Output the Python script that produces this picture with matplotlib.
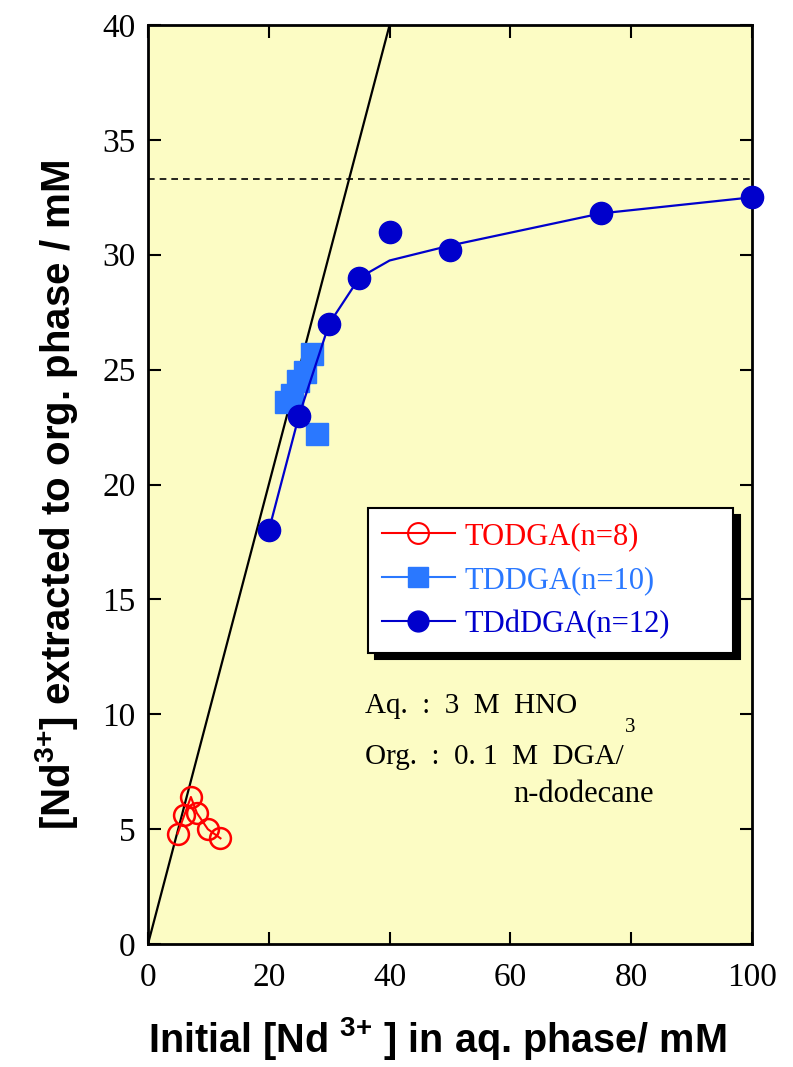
import numpy as np
import matplotlib
matplotlib.use("Agg")
import matplotlib.pyplot as plt

plt.rcParams["mathtext.fontset"] = "custom"
plt.rcParams["mathtext.rm"] = "Liberation Sans"
plt.rcParams["mathtext.bf"] = "Liberation Sans:bold"

# data
todga_x = [4.9, 6.0, 7.1, 8.1, 9.9, 12.0]
todga_y = [4.8, 5.6, 6.4, 5.7, 5.0, 4.6]

tddga_x = [22.9, 23.9, 24.9, 26.0, 27.1, 27.9]
tddga_y = [23.6, 23.9, 24.5, 24.9, 25.7, 22.2]

tddd_x = [20, 25, 30, 35, 40, 50, 75, 100]
tddd_y = [18.0, 23.0, 27.0, 29.0, 31.0, 30.2, 31.8, 32.5]

# fitted curve drawn through the TDdDGA data
fit_x = [20, 25, 30, 35, 40, 50, 75, 100]
fit_y = [18.0, 23.0, 27.0, 29.0, 29.75, 30.4, 31.8, 32.5]

# 100 % extraction line and loading limit (0.1 M / 3)
full_x = [0, 40]
full_y = [0, 40]
limit_y = 33.3

x_ticks = [0, 20, 40, 60, 80, 100]
y_ticks = [0, 5, 10, 15, 20, 25, 30, 35, 40]
labels = ["TODGA(n=8)", "TDDGA(n=10)", "TDdDGA(n=12)"]

RED = "#ff0000"
LBLUE = "#2a78ff"
DBLUE = "#0000cc"
BG = "#fcfcc4"
serif = ["Liberation Serif", "DejaVu Serif"]
sans = ["Liberation Sans", "DejaVu Sans"]

fig = plt.figure(figsize=(7.93, 10.67), dpi=100)
ax = fig.add_axes([148 / 793, 1 - 944 / 1067, 604 / 793, 919 / 1067])
ax.set_facecolor(BG)

ax.plot(full_x, full_y, color="black", lw=1.6, zorder=2)
ax.axhline(limit_y, color="black", lw=1.2, ls=(0, (4, 3)), zorder=2)

ax.plot(todga_x, todga_y, color=RED, lw=1.5, marker="o", ms=15,
        mfc="none", mec=RED, mew=1.8, zorder=3)
ax.plot(tddga_x, tddga_y, ls="none", marker="s", ms=16,
        mfc=LBLUE, mec=LBLUE, zorder=3)
ax.plot(fit_x, fit_y, color=DBLUE, lw=1.6, zorder=3)
ax.plot(tddd_x, tddd_y, ls="none", marker="o", ms=16, mfc=DBLUE, mec=DBLUE,
        zorder=4, clip_on=False)

# legend proxies (line + marker)
h1, = ax.plot([], [], color=RED, lw=1.5, marker="o", ms=15, mfc="none", mec=RED, mew=1.5)
h2, = ax.plot([], [], color=LBLUE, lw=1.5, marker="s", ms=15, mfc=LBLUE, mec=LBLUE)
h3, = ax.plot([], [], color=DBLUE, lw=1.5, marker="o", ms=15, mfc=DBLUE, mec=DBLUE)
leg = ax.legend([h1, h2, h3], labels,
                loc="upper left", bbox_to_anchor=(0.364, 0.317, 0.605, 0.157),
                mode="expand", borderaxespad=0, fancybox=False,
                prop={"family": serif, "size": 22}, labelcolor="linecolor",
                handlelength=2.4, handletextpad=0.3, labelspacing=0.48,
                borderpad=0.45, framealpha=1,
                shadow={"color": "black", "alpha": 1, "ox": 5, "oy": -5})
leg.get_frame().set_edgecolor("black")
leg.get_frame().set_linewidth(1.5)

# conditions note
ax.text(0.36, 0.259, "Aq.  :  3  M  HNO", transform=ax.transAxes, fontsize=21,
        family=serif, va="center", ha="left")
ax.text(0.789, 0.236, "3", transform=ax.transAxes, fontsize=15,
        family=serif, va="center", ha="left")
ax.text(0.36, 0.2035, "Org.  :  0. 1  M  DGA/", transform=ax.transAxes, fontsize=21,
        family=serif, va="center", ha="left")
ax.text(0.605, 0.163, "n-dodecane", transform=ax.transAxes, fontsize=22,
        family=serif, va="center", ha="left")

ax.set_xlim(0, 100)
ax.set_ylim(0, 40)
ax.set_xticks(x_ticks)
ax.set_yticks(y_ticks)
ax.tick_params(direction="in", length=9, width=1.5, top=True, right=True,
               labelsize=24)
ax.tick_params(axis="x", pad=13)
ax.tick_params(axis="y", pad=9)
for lab in ax.get_xticklabels() + ax.get_yticklabels():
    lab.set_family(serif)
for sp in ax.spines.values():
    sp.set_linewidth(2)

# axis titles placed where they sit in the original
fig.text(437 / 793, 1 - 1052 / 1067, "Initial [Nd $^{\\mathbf{3{+}}}$ ] in aq. phase/ mM",
         fontsize=28.5, fontweight="bold", family=sans, ha="center", va="baseline")
fig.text(70 / 793, 1 - 495 / 1067, "[Nd$^{\\mathbf{3{+}}}$] extracted to org. phase / mM",
         fontsize=29, fontweight="bold", family=sans, rotation=90,
         rotation_mode="anchor", ha="center", va="baseline")

fig.savefig("out.png", dpi=100)
